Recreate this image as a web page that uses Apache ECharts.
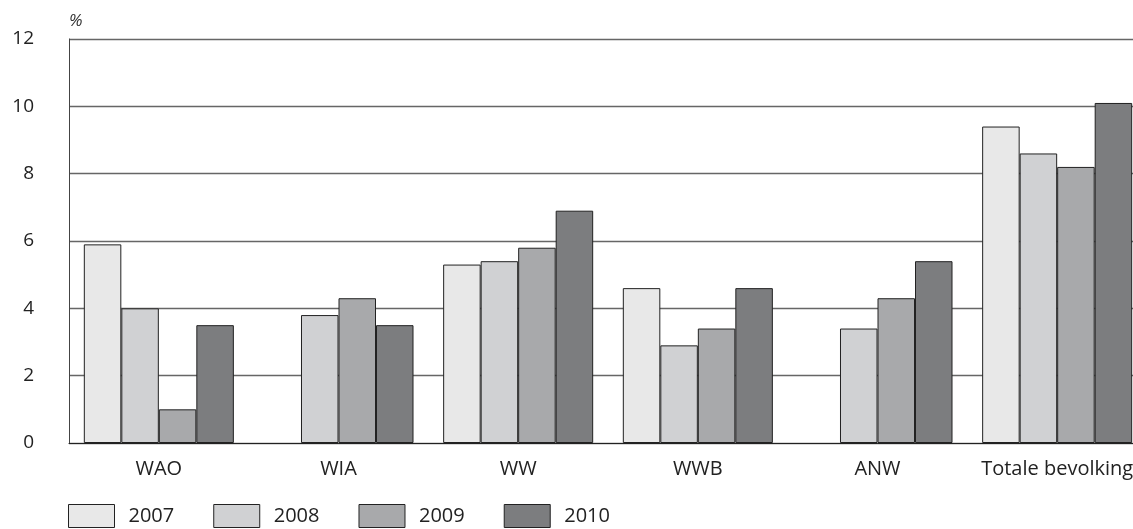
<!DOCTYPE html>
<html>
<head>
<meta charset="utf-8">
<script src="https://cdn.jsdelivr.net/npm/echarts@6/dist/echarts.min.js"></script>
<style>
html,body{margin:0;padding:0;background:#fff;overflow:hidden;width:1133px;height:529px;}
#chart{width:1147px;height:529px;}
</style>
</head>
<body>
<div id="chart"></div>
<script>
const categories = ['WAO', 'WIA', 'WW', 'WWB', 'ANW', 'Totale bevolking'];
const years = ['2007', '2008', '2009', '2010'];
const v2007 = [5.9, null, 5.3, 4.6, null, 9.4];
const v2008 = [4.0, 3.8, 5.4, 2.9, 3.4, 8.6];
const v2009 = [1.0, 4.3, 5.8, 3.4, 4.3, 8.2];
const v2010 = [3.5, 3.5, 6.9, 4.6, 5.4, 10.1];
const yTicks = [0, 2, 4, 6, 8, 10, 12];
const colors = ['#e8e8e8', '#d0d1d3', '#a8a9ab', '#7c7d7f'];

const seriesData = [v2007, v2008, v2009, v2010];
const FONT = '"Open Sans", "Noto Sans", sans-serif';

const chart = echarts.init(document.getElementById('chart'));
chart.setOption({
  animation: false,
  textStyle: { fontFamily: FONT },
  title: {
    text: '%',
    left: 69,
    top: 13,
    padding: 0,
    textStyle: { fontSize: 17, fontStyle: 'italic', fontWeight: 'normal', color: '#333', fontFamily: FONT }
  },
  legend: {
    left: 68,
    top: 504,
    padding: 0,
    itemWidth: 46,
    itemHeight: 23,
    itemGap: 39,
    icon: 'rect',
    data: years,
    itemStyle: { borderColor: '#222', borderWidth: 1 },
    textStyle: { fontSize: 20, color: '#222', fontFamily: FONT, padding: [8, 0, 0, 9] }
  },
  grid: { left: 69, top: 39, right: 0, bottom: 86, containLabel: false },
  xAxis: {
    type: 'category',
    data: categories,
    axisTick: { show: false },
    axisLine: { lineStyle: { color: '#222', width: 1 } },
    axisLabel: { fontSize: 20, color: '#222', margin: 16, interval: 0, fontFamily: FONT }
  },
  yAxis: {
    type: 'value',
    min: yTicks[0],
    max: yTicks[yTicks.length - 1],
    interval: 2,
    axisLine: { show: true, lineStyle: { color: '#444', width: 1 } },
    axisTick: { show: false },
    axisLabel: { fontSize: 19, color: '#222', margin: 35, fontFamily: FONT },
    splitLine: { lineStyle: { color: '#666', width: 1.3 } }
  },
  series: years.map((y, i) => ({
    name: y,
    type: 'bar',
    data: seriesData[i],
    barGap: '0%',
    barCategoryGap: '16.5%',
    itemStyle: { color: colors[i], borderColor: '#222', borderWidth: 1 }
  }))
});
</script>
</body>
</html>
